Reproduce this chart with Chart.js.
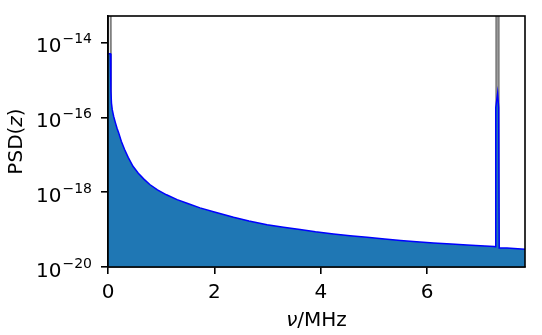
<!DOCTYPE html>
<html>
<head>
<meta charset="utf-8">
<script src="https://cdn.jsdelivr.net/npm/chart.js@4/dist/chart.umd.min.js"></script>
<style>
  html, body { margin: 0; padding: 0; background: #fff; }
  #wrap { width: 542px; height: 335px; }
</style>
</head>
<body>
<div id="wrap"><canvas id="chart" width="542" height="335"></canvas></div>
<script>
// smoothed PSD (blue, filled)
const freqMHz = [0, 0.045, 0.055, 0.065, 0.08, 0.107, 0.14, 0.17, 0.20, 0.25, 0.31, 0.38, 0.47, 0.57, 0.68, 0.786,
    0.93, 1.10, 1.30, 1.50, 1.73, 2.00, 2.36, 2.65, 2.99, 3.30, 3.61, 3.90, 4.24, 4.55, 4.87, 5.20, 5.50, 5.80,
    6.12, 6.45, 6.75, 7.00, 7.26, 7.28, 7.29, 7.325, 7.345, 7.355, 7.50, 7.84]
const psd = [5.0e-15, 5.0e-15, 5.0e-16, 2.4e-16, 1.6e-16, 1.05e-16, 7.1e-17, 5.1e-17, 3.9e-17, 2.3e-17, 1.4e-17,
    8.5e-18, 4.9e-18, 3.2e-18, 2.2e-18, 1.6e-18, 1.15e-18, 8.5e-19, 6.3e-19, 5.0e-19, 3.8e-19, 2.95e-19, 2.14e-19,
    1.7e-19, 1.35e-19, 1.15e-19, 1.0e-19, 8.7e-20, 7.6e-20, 6.8e-20, 6.2e-20, 5.6e-20, 5.1e-20, 4.7e-20, 4.4e-20,
    4.1e-20, 3.9e-20, 3.7e-20, 3.55e-20, 3.5e-20, 1.8e-16, 4.4e-16, 1.8e-16, 3.2e-20, 3.2e-20, 3.0e-20]

// raw PSD (grey), mostly hidden below the fill
const rawFreqMHz = [0, 0.05, 0.06, 7.295, 7.30, 7.34, 7.345, 7.84]
const rawPsd = [1e-12, 1e-12, 1e-20, 1e-20, 1e-12, 1e-12, 1e-20, 1e-20]

const xTicks = [0, 2, 4, 6]
const yTickExps = [-20, -18, -16, -14]

const FONT = 'DejaVu Sans'

const frame = {
    id: 'frame',
    afterDraw(chart) {
        const { ctx, chartArea: a, scales } = chart
        ctx.save()
        ctx.strokeStyle = '#000'
        ctx.lineWidth = 1.6
        ctx.strokeRect(a.left, a.top, a.right - a.left, a.bottom - a.top)

        // y tick labels 10^n
        ctx.fillStyle = '#000'
        ctx.textBaseline = 'alphabetic'
        yTickExps.forEach(e => {
            const py = scales.y.getPixelForValue(Math.pow(10, e))
            const exp = '\u2212' + Math.abs(e)
            ctx.font = '14px ' + FONT
            const ew = ctx.measureText(exp).width
            const right = 92
            ctx.textAlign = 'left'
            ctx.fillText(exp, right - ew, py + 0.5)
            ctx.font = '20px ' + FONT
            ctx.textAlign = 'right'
            ctx.fillText('10', right - ew - 1, py + 9.5)
        })

        // x title: ν/MHz
        ctx.textAlign = 'left'
        ctx.font = 'italic 20px ' + FONT
        const w1 = ctx.measureText('\u03bd').width
        ctx.font = '20px ' + FONT
        const w2 = ctx.measureText('/MHz').width
        const cx = (a.left + a.right) / 2
        let x0 = cx - (w1 + w2) / 2
        ctx.font = 'italic 20px ' + FONT
        ctx.fillText('\u03bd', x0, 326)
        ctx.font = '20px ' + FONT
        ctx.fillText('/MHz', x0 + w1, 326)

        // y title: PSD(z)
        ctx.translate(22, (a.top + a.bottom) / 2)
        ctx.rotate(-Math.PI / 2)
        ctx.font = '20px ' + FONT
        const p1 = ctx.measureText('PSD(').width
        const p3 = ctx.measureText(')').width
        ctx.font = 'italic 20px ' + FONT
        const p2 = ctx.measureText('z').width
        let y0 = -(p1 + p2 + p3) / 2
        ctx.font = '20px ' + FONT
        ctx.fillText('PSD(', y0, 0)
        ctx.font = 'italic 20px ' + FONT
        ctx.fillText('z', y0 + p1, 0)
        ctx.font = '20px ' + FONT
        ctx.fillText(')', y0 + p1 + p2, 0)
        ctx.restore()
    }
}

new Chart(document.getElementById('chart'), {
    type: 'line',
    data: {
        datasets: [
            {
                data: freqMHz.map((f, i) => ({ x: f, y: psd[i] })),
                borderColor: '#0000ff',
                borderWidth: 1.5,
                backgroundColor: '#1f77b4',
                fill: 'start',
                pointRadius: 0,
                tension: 0
            },
            {
                data: rawFreqMHz.map((f, i) => ({ x: f, y: rawPsd[i] })),
                borderColor: '#808080',
                borderWidth: 2,
                fill: false,
                pointRadius: 0,
                tension: 0
            }
        ]
    },
    options: {
        responsive: false,
        animation: false,
        layout: { padding: { top: 16, right: 17, left: 0, bottom: 0 } },
        plugins: { legend: { display: false }, tooltip: { enabled: false } },
        scales: {
            x: {
                type: 'linear',
                min: 0,
                max: 7.84,
                afterBuildTicks: s => { s.ticks = xTicks.map(v => ({ value: v })) },
                afterFit: s => { s.height = 68 },
                grid: { drawOnChartArea: false, drawTicks: true, tickLength: 7, color: '#000', lineWidth: 1.6 },
                border: { display: true, color: '#000', width: 1.6 },
                ticks: { color: '#000', font: { family: FONT, size: 20 }, padding: 7, maxRotation: 0 }
            },
            y: {
                type: 'logarithmic',
                min: 1e-20,
                max: 5.1e-14,
                afterBuildTicks: s => { s.ticks = yTickExps.map(e => ({ value: Math.pow(10, e) })) },
                afterFit: s => { s.width = 108 },
                grid: { drawOnChartArea: false, drawTicks: true, tickLength: 7, color: '#000', lineWidth: 1.6 },
                border: { display: true, color: '#000', width: 1.6 },
                ticks: { callback: () => '', font: { family: FONT, size: 20 } }
            }
        }
    },
    plugins: [frame]
})
</script>
</body>
</html>
